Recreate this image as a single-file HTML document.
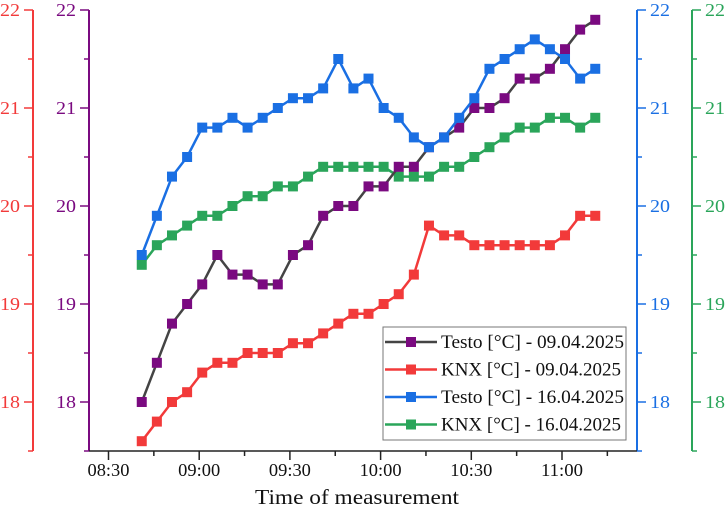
<!DOCTYPE html>
<html><head><meta charset="utf-8"><style>
html,body{margin:0;padding:0;background:#fff;}
svg{display:block;font-family:"Liberation Serif",serif;}
</style></head><body>
<svg id="chart" width="726" height="514" viewBox="0 0 726 514" xmlns="http://www.w3.org/2000/svg"></svg>
<script>
const startMinutes = 521; // 08:41
const stepMinutes = 5;
const testo0904 = [18.0,18.4,18.8,19.0,19.2,19.5,19.3,19.3,19.2,19.2,19.5,19.6,19.9,20.0,20.0,20.2,20.2,20.4,20.4,20.6,20.7,20.8,21.0,21.0,21.1,21.3,21.3,21.4,21.6,21.8,21.9];
const knx0904 = [17.6,17.8,18.0,18.1,18.3,18.4,18.4,18.5,18.5,18.5,18.6,18.6,18.7,18.8,18.9,18.9,19.0,19.1,19.3,19.8,19.7,19.7,19.6,19.6,19.6,19.6,19.6,19.6,19.7,19.9,19.9];
const testo1604 = [19.5,19.9,20.3,20.5,20.8,20.8,20.9,20.8,20.9,21.0,21.1,21.1,21.2,21.5,21.2,21.3,21.0,20.9,20.7,20.6,20.7,20.9,21.1,21.4,21.5,21.6,21.7,21.6,21.5,21.3,21.4];
const knx1604 = [19.4,19.6,19.7,19.8,19.9,19.9,20.0,20.1,20.1,20.2,20.2,20.3,20.4,20.4,20.4,20.4,20.4,20.3,20.3,20.3,20.4,20.4,20.5,20.6,20.7,20.8,20.8,20.9,20.9,20.8,20.9];
const xTickMinutes = [510,540,570,600,630,660];
const xTickLabels = ["08:30","09:00","09:30","10:00","10:30","11:00"];
const yTicks = [18,19,20,21,22];

const svg = document.getElementById('chart');
const NS = 'http://www.w3.org/2000/svg';
function X(m){ return 108.5 + (m-510)*90.7/30; }
function Y(v){ return 10 + (22-v)*98; }
function mk(tag, attrs, parent){ const e=document.createElementNS(NS,tag); for(const k in attrs) e.setAttribute(k,attrs[k]); (parent||svg).appendChild(e); return e; }

const axes = [
 {x:33, dir:-1, color:'#f23a3a', name:'knx-0904-axis'},
 {x:89, dir:-1, color:'#7a0a80', name:'testo-0904-axis'},
 {x:637, dir:1, color:'#1a6fe3', name:'testo-1604-axis'},
 {x:692, dir:1, color:'#2aa55a', name:'knx-1604-axis'}
];
axes.forEach(a=>{
  const g = mk('g',{});
  
  
  mk('line',{x1:a.x,y1:Y(22),x2:a.x,y2:Y(17.5),stroke:a.color,'stroke-width':2},g);
  for(let v=17.5; v<=22.01; v+=0.5){
    const major = Math.abs(v-Math.round(v))<0.01;
    mk('line',{x1:a.x,y1:Y(v),x2:a.x+a.dir*(major?9:5),y2:Y(v),stroke:a.color,'stroke-width':1.5},g);
  }
  yTicks.forEach(v=>{
    const t = mk('text',{x:a.dir<0?a.x-13:a.x+13,y:Y(v)+6,fill:a.color,'font-size':18,'text-anchor':a.dir<0?'end':'start',textLength:20,lengthAdjust:'spacingAndGlyphs'},g);
    t.textContent = v;
  });
});

const xg = mk('g',{});


mk('line',{x1:89,y1:451,x2:637,y2:451,stroke:'#222','stroke-width':1.5},xg);
for(let m=510;m<=680;m+=15){
  const major = (m%30)===0;
  mk('line',{x1:X(m),y1:451,x2:X(m),y2:major?460:456,stroke:'#222','stroke-width':1.5},xg);
}
xTickMinutes.forEach((m,i)=>{
  const t = mk('text',{x:X(m),y:476,'font-size':18,'text-anchor':'middle',fill:'#111',textLength:42,lengthAdjust:'spacingAndGlyphs'},xg);
  t.textContent = xTickLabels[i];
});
const xt = mk('text',{x:357,y:504,'font-size':21,'text-anchor':'middle',fill:'#111',textLength:204,lengthAdjust:'spacingAndGlyphs'});


xt.textContent = 'Time of measurement';

const series = [
 {data:knx1604, line:'#2aa55a', marker:'#2aa55a', name:'series-knx-1604'},
 {data:knx0904, line:'#f23a3a', marker:'#f23a3a', name:'series-knx-0904'},
 {data:testo0904, line:'#444444', marker:'#7a0a80', name:'series-testo-0904'},
 {data:testo1604, line:'#1a6fe3', marker:'#1a6fe3', name:'series-testo-1604'}
];
series.forEach(s=>{
  const g = mk('g',{});
  
  
  const pts = s.data.map((v,i)=>X(startMinutes+i*stepMinutes).toFixed(1)+','+Y(v).toFixed(1)).join(' ');
  mk('polyline',{points:pts,fill:'none',stroke:s.line,'stroke-width':2.5},g);
  s.data.forEach((v,i)=>{
    const r = mk('rect',{x:X(startMinutes+i*stepMinutes)-5,y:Y(v)-5,width:10,height:10,fill:s.marker},g);
    
    
  });
});

const lg = mk('g',{});


mk('rect',{x:383,y:327,width:243,height:113,fill:'#fff',stroke:'#777','stroke-width':1},lg);
const legendItems = [
 {label:'Testo [°C] - 09.04.2025', line:'#444444', marker:'#7a0a80', w:183},
 {label:'KNX [°C] - 09.04.2025', line:'#f23a3a', marker:'#f23a3a', w:180},
 {label:'Testo [°C] - 16.04.2025', line:'#1a6fe3', marker:'#1a6fe3', w:183},
 {label:'KNX [°C] - 16.04.2025', line:'#2aa55a', marker:'#2aa55a', w:180}
];
legendItems.forEach((it,i)=>{
  const y = 342 + i*27.5;
  const e = mk('g',{},lg);
  
  
  mk('line',{x1:385,y1:y,x2:437,y2:y,stroke:it.line,'stroke-width':2.5},e);
  mk('rect',{x:406,y:y-5,width:10,height:10,fill:it.marker},e);
  const t = mk('text',{x:441,y:y+6,'font-size':19,fill:'#111',textLength:it.w,lengthAdjust:'spacingAndGlyphs'},e);
  t.textContent = it.label;
});
</script>
</body></html>
